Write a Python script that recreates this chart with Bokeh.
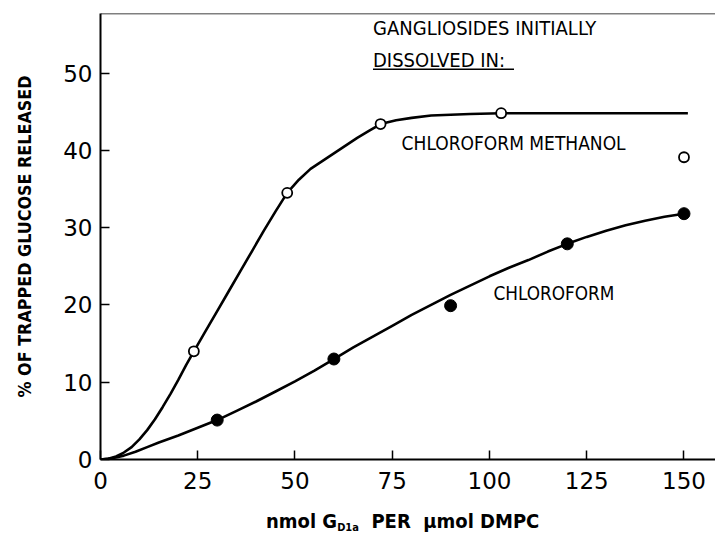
from bokeh.plotting import figure
from bokeh.models import Range1d, Label, Span, FixedTicker, Div
from bokeh.layouts import column
from bokeh.embed import file_html
from bokeh.resources import INLINE

# ---- data ----
x_ticks = [0, 25, 50, 75, 100, 125, 150]
y_ticks = [0, 10, 20, 30, 40, 50]

# Chloroform/methanol: measured points (open circles)
cm_x = [24, 48, 72, 103, 150]
cm_y = [14.0, 34.5, 43.4, 44.8, 39.1]
# Chloroform/methanol: hand-drawn curve
cm_curve_x = [0, 2, 4, 6, 8, 10, 12, 14, 16, 18, 20, 22, 24, 27, 30, 33, 36, 39, 42, 45,
              48, 51, 54, 57, 60, 63, 66, 69, 72, 76, 80, 85, 90, 95, 103, 120, 151]
cm_curve_y = [0, 0.1, 0.4, 0.9, 1.6, 2.6, 3.8, 5.2, 6.8, 8.5, 10.3, 12.2, 14.0, 16.6, 19.2,
              21.8, 24.4, 27.0, 29.6, 32.1, 34.5, 36.2, 37.6, 38.6, 39.6, 40.6, 41.6, 42.5,
              43.4, 43.9, 44.2, 44.5, 44.6, 44.7, 44.8, 44.8, 44.8]

# Chloroform: measured points (filled circles)
c_x = [30, 60, 90, 120, 150]
c_y = [5.1, 13.0, 19.9, 27.9, 31.8]
# Chloroform: hand-drawn curve
c_curve_x = [0, 3, 6, 9, 12, 15, 20, 25, 30, 35, 40, 45, 50, 55, 60, 65, 70, 75, 80, 85,
             90, 95, 100, 105, 110, 115, 120, 125, 130, 135, 140, 145, 150]
c_curve_y = [0, 0.15, 0.5, 1.0, 1.6, 2.2, 3.1, 4.1, 5.1, 6.3, 7.5, 8.8, 10.1, 11.5, 13.0,
             14.5, 15.9, 17.3, 18.7, 20.0, 21.3, 22.5, 23.7, 24.8, 25.8, 26.9, 27.9, 28.8,
             29.6, 30.3, 30.9, 31.4, 31.8]

X_MAX = 158.1
Y_MAX = 57.7

COND = "DejaVu Sans Condensed"
TICKF = "DejaVu Sans"

p = figure(width=715, height=503, output_backend="svg", toolbar_location=None,
           x_range=Range1d(0, X_MAX), y_range=Range1d(0, Y_MAX),
           min_border_left=100, min_border_right=0, min_border_top=13, min_border_bottom=44)
p.grid.visible = False
p.outline_line_color = None
p.background_fill_color = "white"
p.border_fill_color = "white"

p.xaxis.ticker = FixedTicker(ticks=x_ticks)
p.yaxis.ticker = FixedTicker(ticks=y_ticks)
for ax in (p.xaxis, p.yaxis):
    ax.major_tick_in = 9
    ax.major_tick_out = 0
    ax.minor_tick_in = 0
    ax.minor_tick_out = 0
    ax.axis_line_width = 2
    ax.axis_line_color = "black"
    ax.major_tick_line_width = 1.5
    ax.major_tick_line_color = "black"
    ax.major_label_text_font = TICKF
    ax.major_label_text_font_size = "23px"
    ax.major_label_text_color = "black"
p.xaxis.major_label_standoff = 12
p.yaxis.major_label_standoff = 8

p.yaxis.axis_label = "% OF TRAPPED GLUCOSE RELEASED"
p.yaxis.axis_label_text_font = COND
p.yaxis.axis_label_text_font_style = "bold"
p.yaxis.axis_label_text_font_size = "17.8px"
p.yaxis.axis_label_text_color = "black"
p.yaxis.axis_label_standoff = 25

# top frame line
p.add_layout(Span(location=Y_MAX, dimension="width", line_color="black", line_width=1.5))

# curves
p.line(cm_curve_x, cm_curve_y, line_color="black", line_width=2.6)
p.line(c_curve_x, c_curve_y, line_color="black", line_width=2.6)

# points
p.scatter(c_x, c_y, marker="circle", size=12, fill_color="black", line_color="black")
p.scatter(cm_x, cm_y, marker="circle", size=10, fill_color="white", line_color="black", line_width=1.8)

# annotations
def lab(x, y, t, size, style="normal", baseline="middle"):
    p.add_layout(Label(x=x, y=y, text=t, text_font=COND, text_font_size=size,
                       text_font_style=style, text_color="black",
                       text_baseline=baseline, text_align="left"))

lab(70.05, 55.8, "GANGLIOSIDES  INITIALLY", "20px")
lab(70.05, 51.65, "DISSOLVED  IN:", "20px")
p.segment(x0=[70.05], y0=[50.5], x1=[106.3], y1=[50.5], line_color="black", line_width=1.5)
lab(77.4, 40.96, "CHLOROFORM METHANOL", "19px")
lab(101.0, 21.5, "CHLOROFORM", "18.8px")

# x-axis title with subscript (HTML text below the plot)
xlabel = Div(
    text="nmol&nbsp;G<sub style='font-size:11px;vertical-align:-3px'>D1a</sub>"
         "&nbsp;&nbsp;PER&nbsp;&nbsp;\u03bcmol&nbsp;DMPC",
    width=715, height=32, margin=0,
    styles={"font-family": "'DejaVu Sans Condensed', sans-serif", "font-weight": "bold",
            "font-size": "20px", "line-height": "24px", "padding-left": "266px",
            "padding-top": "6px", "color": "black", "white-space": "nowrap"})

layout = column(p, xlabel, spacing=0, margin=0)
open("out.html", "w").write(file_html(layout, INLINE))
